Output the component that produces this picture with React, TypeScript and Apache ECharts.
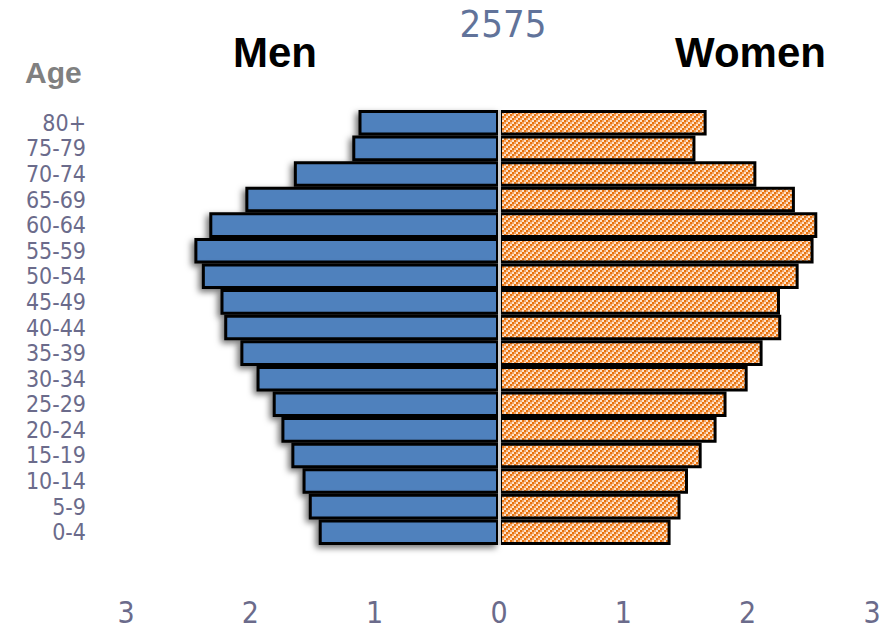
import React, { useEffect, useRef } from "react";
import * as echarts from "echarts";

const ageGroups = ["80+", "75-79", "70-74", "65-69", "60-64", "55-59", "50-54", "45-49", "40-44", "35-39", "30-34", "25-29", "20-24", "15-19", "10-14", "5-9", "0-4"];
const menValues = [1.13, 1.18, 1.65, 2.04, 2.33, 2.45, 2.39, 2.24, 2.21, 2.08, 1.95, 1.82, 1.75, 1.67, 1.58, 1.53, 1.45];
const womenValues = [1.67, 1.58, 2.07, 2.38, 2.56, 2.53, 2.41, 2.26, 2.27, 2.12, 2.0, 1.83, 1.75, 1.63, 1.52, 1.46, 1.38];
const xTicks = [-3, -2, -1, 0, 1, 2, 3];
const yearLabel = "2575";

const NARROW = "'Liberation Sans Narrow', 'DejaVu Sans Condensed', 'Liberation Sans', sans-serif";
const BOLD = "'Liberation Sans', Arial, sans-serif";

function makePattern(): HTMLCanvasElement {
  const c = document.createElement("canvas");
  c.width = 6;
  c.height = 6;
  const ctx = c.getContext("2d")!;
  const cols = ["#E8720C", "#F3A565", "#FDE3CC"];
  for (let cy = 0; cy < 3; cy++) {
    for (let cx = 0; cx < 3; cx++) {
      ctx.fillStyle = cols[(cx + cy) % 3];
      ctx.fillRect(cx * 2, cy * 2, 2, 2);
    }
  }
  return c;
}

export default function App() {
  const ref = useRef<HTMLDivElement>(null);
  useEffect(() => {
    if (!ref.current) return;
    const chart = echarts.init(ref.current, null, { renderer: "svg" });
    const pattern = makePattern();
    chart.setOption({
      animation: false,
      backgroundColor: "#ffffff",
      grid: { left: 126, right: 23, top: 110, bottom: 86 },
      xAxis: {
        type: "value",
        min: xTicks[0],
        max: xTicks[xTicks.length - 1],
        interval: 1,
        axisLine: { show: false },
        axisTick: { show: false },
        splitLine: { show: false },
        axisLabel: {
          margin: 52,
          fontSize: 30,
          fontFamily: NARROW,
          color: "#6b6b8b",
          formatter: (v: number) => String(Math.abs(v)),
        },
      },
      yAxis: {
        type: "category",
        inverse: true,
        data: ageGroups,
        axisLine: { show: false },
        axisTick: { show: false },
        axisLabel: {
          interval: 0,
          margin: 40,
          fontSize: 23,
          lineHeight: 24,
          fontFamily: NARROW,
          color: "#6b6b8b",
        },
      },
      graphic: [
        { type: "text", x: 503, y: 24, style: { text: yearLabel, fontSize: 38, fontFamily: NARROW, fill: "#61739a", align: "center", verticalAlign: "middle" } },
        { type: "text", x: 233, y: 52, style: { text: "Men", fontSize: 42, fontWeight: "bold", fontFamily: BOLD, fill: "#000000", align: "left", verticalAlign: "middle" } },
        { type: "text", x: 675, y: 52, style: { text: "Women", fontSize: 42, fontWeight: "bold", fontFamily: BOLD, fill: "#000000", align: "left", verticalAlign: "middle" } },
        { type: "text", x: 25, y: 72, style: { text: "Age", fontSize: 30, fontWeight: "bold", fontFamily: BOLD, fill: "#808080", align: "left", verticalAlign: "middle" } },
      ],
      series: [
        {
          name: "Men",
          type: "bar",
          data: menValues.map((v) => -v),
          barCategoryGap: "0%",
          barGap: "-100%",
          itemStyle: {
            color: "#4F81BD",
            borderColor: "#000000",
            borderWidth: 3,
            shadowColor: "rgba(0,0,0,0.55)",
            shadowBlur: 6,
            shadowOffsetX: -3,
            shadowOffsetY: 3,
          },
        },
        {
          name: "Women",
          type: "bar",
          data: womenValues,
          barCategoryGap: "0%",
          barGap: "-100%",
          itemStyle: {
            color: { image: pattern, repeat: "repeat" } as any,
            borderColor: "#000000",
            borderWidth: 3,
          },
          markLine: {
            silent: true,
            symbol: ["none", "none"],
            label: { show: false },
            lineStyle: { color: "#D0D0D0", width: 3, type: "solid" },
            data: [{ xAxis: 0 }],
          },
        },
      ],
    });
    return () => chart.dispose();
  }, []);
  return <div ref={ref} style={{ position: "fixed", left: 0, top: 0, width: 895, height: 631 }} />;
}
